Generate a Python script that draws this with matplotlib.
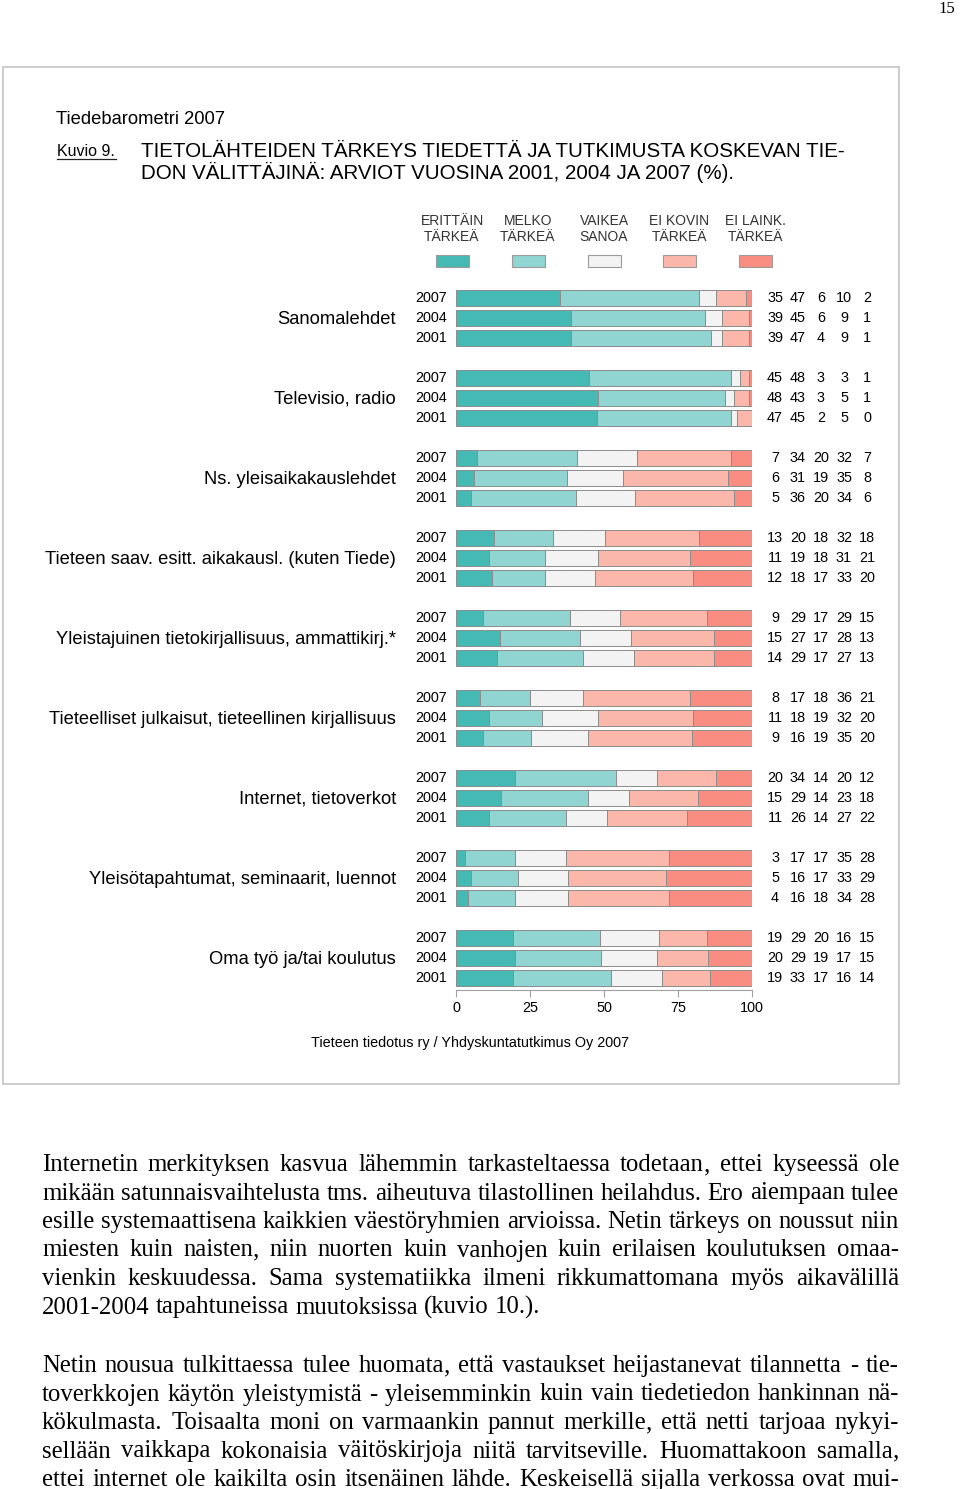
import matplotlib

matplotlib.use("Agg")
import matplotlib.pyplot as plt
import numpy as np
from matplotlib.lines import Line2D
from matplotlib.patches import Rectangle

plt.rcParams["font.family"] = ["Liberation Sans", "DejaVu Sans"]

W, H = 960, 1489

categories = [
    "Sanomalehdet",
    "Televisio, radio",
    "Ns. yleisaikakauslehdet",
    "Tieteen saav. esitt. aikakausl. (kuten Tiede)",
    "Yleistajuinen tietokirjallisuus, ammattikirj.*",
    "Tieteelliset julkaisut, tieteellinen kirjallisuus",
    "Internet, tietoverkot",
    "Yleisötapahtumat, seminaarit, luennot",
    "Oma työ ja/tai koulutus",
]
years = ["2007", "2004", "2001"]
levels = [
    "ERITTÄIN\nTÄRKEÄ",
    "MELKO\nTÄRKEÄ",
    "VAIKEA\nSANOA",
    "EI KOVIN\nTÄRKEÄ",
    "EI LAINK.\nTÄRKEÄ",
]
colors = ["#45b9b4", "#90d5d1", "#f3f3f3", "#fbb8aa", "#f98d81"]

# rows: 2007, 2004, 2001
sanomalehdet = [[35, 47, 6, 10, 2], [39, 45, 6, 9, 1], [39, 47, 4, 9, 1]]
televisio = [[45, 48, 3, 3, 1], [48, 43, 3, 5, 1], [47, 45, 2, 5, 0]]
yleisaikakauslehdet = [[7, 34, 20, 32, 7], [6, 31, 19, 35, 8], [5, 36, 20, 34, 6]]
tiede_lehdet = [[13, 20, 18, 32, 18], [11, 19, 18, 31, 21], [12, 18, 17, 33, 20]]
tietokirjallisuus = [[9, 29, 17, 29, 15], [15, 27, 17, 28, 13], [14, 29, 17, 27, 13]]
tieteelliset = [[8, 17, 18, 36, 21], [11, 18, 19, 32, 20], [9, 16, 19, 35, 20]]
internet = [[20, 34, 14, 20, 12], [15, 29, 14, 23, 18], [11, 26, 14, 27, 22]]
tapahtumat = [[3, 17, 17, 35, 28], [5, 16, 17, 33, 29], [4, 16, 18, 34, 28]]
oma_tyo = [[19, 29, 20, 16, 15], [20, 29, 19, 17, 15], [19, 33, 17, 16, 14]]

all_data = [sanomalehdet, televisio, yleisaikakauslehdet, tiede_lehdet,
            tietokirjallisuus, tieteelliset, internet, tapahtumat, oma_tyo]

para1 = [
    "Internetin merkityksen kasvua lähemmin tarkasteltaessa todetaan, ettei kyseessä ole",
    "mikään satunnaisvaihtelusta tms. aiheutuva tilastollinen heilahdus. Ero aiempaan tulee",
    "esille systemaattisena kaikkien väestöryhmien arvioissa. Netin tärkeys on noussut niin",
    "miesten kuin naisten, niin nuorten kuin vanhojen kuin erilaisen koulutuksen omaa-",
    "vienkin keskuudessa. Sama systematiikka ilmeni rikkumattomana myös aikavälillä",
    "2001-2004 tapahtuneissa muutoksissa (kuvio 10.).",
]
para2 = [
    "Netin nousua tulkittaessa tulee huomata, että vastaukset heijastanevat tilannetta - tie-",
    "toverkkojen käytön yleistymistä - yleisemminkin kuin vain tiedetiedon hankinnan nä-",
    "kökulmasta. Toisaalta moni on varmaankin pannut merkille, että netti tarjoaa nykyi-",
    "sellään vaikkapa kokonaisia väitöskirjoja niitä tarvitseville. Huomattakoon samalla,",
    "ettei internet ole kaikilta osin itsenäinen lähde. Keskeisellä sijalla verkossa ovat mui-",
]


def fy(py):
    return 1 - py / H


fig = plt.figure(figsize=(W / 100, H / 100), dpi=100)

# frame around the figure block
fig.patches.append(Rectangle((3 / W, fy(1084)), 896 / W, 1017 / H, fill=False,
                             edgecolor="#c8c8c8", lw=1.3, transform=fig.transFigure))

fig.text(947 / W, fy(9), "15", family="Liberation Serif", fontsize=12,
         ha="center", va="center")
fig.text(56 / W, fy(124), "Tiedebarometri 2007", fontsize=13.2, va="baseline")
fig.text(57 / W, fy(156), "Kuvio 9.", fontsize=11.5, va="baseline")
fig.add_artist(Line2D([57 / W, 116 / W], [fy(159), fy(159)], color="#222222", lw=0.9))
fig.text(141 / W, fy(157), "TIETOLÄHTEIDEN TÄRKEYS TIEDETTÄ JA TUTKIMUSTA KOSKEVAN TIE-",
         fontsize=14.8, va="baseline")
fig.text(141 / W, fy(179), "DON VÄLITTÄJINÄ: ARVIOT VUOSINA 2001, 2004 JA 2007 (%).",
         fontsize=14.8, va="baseline")

# legend
for k, cx in enumerate([452, 528, 604, 679, 755]):
    fig.patches.append(Rectangle(((cx - 16.5) / W, fy(267)), 33 / W, 12 / H,
                                 facecolor=colors[k], edgecolor="#9a9a9a", lw=0.8,
                                 transform=fig.transFigure))
    fig.text(cx / W, fy(229), levels[k], fontsize=10, ha="center", va="center",
             multialignment="center", linespacing=1.25, color="#333333")

ax = fig.add_axes([456 / W, fy(990), 296 / W, (990 - 288) / H])

ypos = []
shares = []
for g, block in enumerate(all_data):
    for j, row in enumerate(block):
        ypos.append(4 * g + j)
        vals = np.array(row, dtype=float)
        shares.append(vals / vals.sum() * 100)
ypos = np.array(ypos)
shares = np.array(shares)
lefts = np.cumsum(shares, axis=1) - shares

for k in range(5):
    ax.barh(ypos, shares[:, k], left=lefts[:, k], height=0.78, color=colors[k],
            edgecolor="#8c8c8c", linewidth=0.7)

col_x = [107.8, 115.5, 123.3, 131.1, 138.9]
for g, block in enumerate(all_data):
    ax.text(-20.3, 4 * g + 1.05, categories[g], fontsize=13.2, ha="right", va="center")
    for j, row in enumerate(block):
        y = 4 * g + j
        ax.text(-8.4, y, years[j], fontsize=10.4, ha="center", va="center")
        for k, v in enumerate(row):
            ax.text(col_x[k], y, str(v), fontsize=10.4, ha="center", va="center")

ax.set_xlim(0, 100)
ax.set_ylim(34.6, -0.5)
ax.set_yticks([])
ax.set_xticks([0, 25, 50, 75, 100])
ax.tick_params(axis="x", length=5, color="#a0a0a0", labelsize=10.4, pad=3)
for s in ["left", "top", "right"]:
    ax.spines[s].set_visible(False)
ax.spines["bottom"].set_color("#a0a0a0")
ax.spines["bottom"].set_bounds(0, 100)
ax.patch.set_visible(False)

fig.text(470 / W, fy(1043), "Tieteen tiedotus ry / Yhdyskuntatutkimus Oy 2007",
         fontsize=10.4, ha="center", va="center")

# justified body text, one text per word
renderer = fig.canvas.get_renderer()
LEFT, RIGHT = 42, 899
SERIF = "Liberation Serif"


def text_width(s, size):
    t = fig.text(0, 0, s, fontsize=size, family=SERIF)
    wd = t.get_window_extent(renderer).width
    t.remove()
    return wd


def word_widths(words, size):
    return [text_width(w, size) for w in words]


lines = [(l, i == len(para1) - 1, 1171 + 28.5 * i) for i, l in enumerate(para1)]
lines += [(l, False, 1372 + 28.5 * i) for i, l in enumerate(para2)]

base = 18.0
natural = []
for text, last, _ in lines:
    ws = word_widths(text.split(), base)
    natural.append(sum(ws) + 0.25 * base * 100 / 72 * (len(ws) - 1))
size = base * (RIGHT - LEFT) / max(natural)

for text, last, yb in lines:
    words = text.split()
    ws = word_widths(words, size)
    if last:
        gap = 0.25 * size * 100 / 72
    else:
        gap = (RIGHT - LEFT - sum(ws)) / (len(words) - 1)
    x = LEFT
    for w, wd in zip(words, ws):
        # trailing comma drawn on its own so the word keeps the line's baseline
        if w.endswith(",") and len(w) > 1:
            core = w[:-1]
            fig.text(x / W, fy(yb), core, fontsize=size, family=SERIF, va="baseline")
            fig.text((x + text_width(core, size)) / W, fy(yb), ",", fontsize=size,
                     family=SERIF, va="baseline")
        else:
            fig.text(x / W, fy(yb), w, fontsize=size, family=SERIF, va="baseline")
        x += wd + gap

fig.savefig("out.png", dpi=100)
